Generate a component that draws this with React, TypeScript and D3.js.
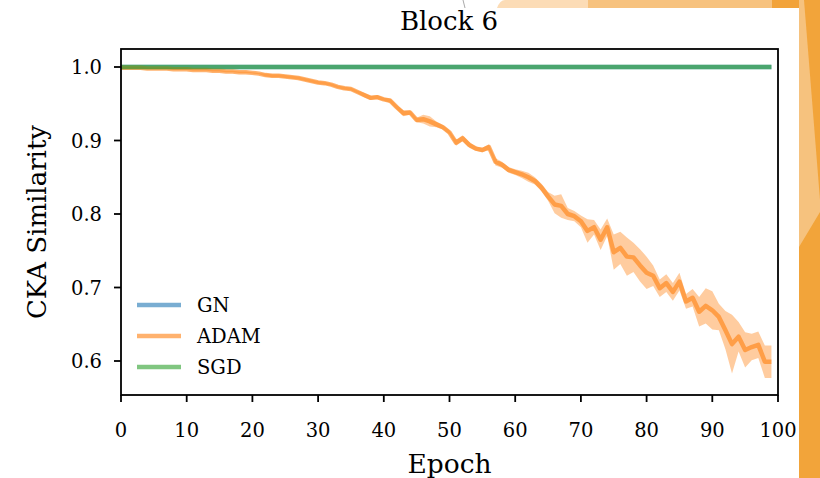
import React from 'react';
import * as d3 from 'd3';

const epochs: number[] = d3.range(0, 100);

const adam: number[] = [
  0.999, 0.999, 0.999, 0.999, 0.998, 0.998, 0.998, 0.998, 0.997, 0.997,
  0.997, 0.996, 0.996, 0.996, 0.995, 0.995, 0.994, 0.994, 0.993, 0.993,
  0.992, 0.991, 0.989, 0.988, 0.988, 0.987, 0.986, 0.985, 0.983, 0.981,
  0.979, 0.978, 0.976, 0.973, 0.971, 0.970, 0.966, 0.962, 0.958, 0.959,
  0.956, 0.954, 0.945, 0.937, 0.938, 0.928, 0.929, 0.926, 0.922, 0.918,
  0.911, 0.897, 0.903, 0.894, 0.889, 0.887, 0.891, 0.871, 0.867, 0.860,
  0.857, 0.854, 0.850, 0.845, 0.836, 0.824, 0.813, 0.811, 0.800, 0.797,
  0.790, 0.777, 0.782, 0.765, 0.782, 0.748, 0.754, 0.742, 0.741, 0.730,
  0.720, 0.716, 0.699, 0.706, 0.694, 0.708, 0.681, 0.686, 0.667, 0.675,
  0.669, 0.660, 0.642, 0.623, 0.633, 0.615, 0.619, 0.622, 0.599, 0.599,
];

const adamSpread: number[] = [
  0.001, 0.001, 0.001, 0.001, 0.001, 0.001, 0.001, 0.001, 0.001, 0.001,
  0.001, 0.001, 0.001, 0.001, 0.001, 0.001, 0.001, 0.001, 0.001, 0.001,
  0.001, 0.001, 0.002, 0.002, 0.002, 0.002, 0.002, 0.002, 0.002, 0.002,
  0.002, 0.002, 0.002, 0.002, 0.002, 0.002, 0.002, 0.003, 0.003, 0.003,
  0.002, 0.003, 0.003, 0.004, 0.003, 0.003, 0.006, 0.007, 0.004, 0.003,
  0.003, 0.004, 0.004, 0.004, 0.003, 0.003, 0.004, 0.005, 0.004, 0.004,
  0.004, 0.005, 0.006, 0.005, 0.005, 0.006, 0.012, 0.016, 0.008, 0.007,
  0.008, 0.016, 0.010, 0.014, 0.012, 0.024, 0.022, 0.026, 0.020, 0.022,
  0.022, 0.014, 0.012, 0.012, 0.012, 0.012, 0.010, 0.012, 0.020, 0.024,
  0.026, 0.018, 0.026, 0.040, 0.020, 0.024, 0.018, 0.018, 0.022, 0.022,
];

const gn: number[] = [
  1.000, 1.000, 1.000, 1.000, 1.000, 1.000, 1.000, 1.000, 1.000, 1.000,
  1.000, 1.000, 1.000, 1.000, 1.000, 1.000, 1.000, 1.000, 1.000, 1.000,
  1.000, 1.000, 1.000, 1.000, 1.000, 1.000, 1.000, 1.000, 1.000, 1.000,
  1.000, 1.000, 1.000, 1.000, 1.000, 1.000, 1.000, 1.000, 1.000, 1.000,
  1.000, 1.000, 1.000, 1.000, 1.000, 1.000, 1.000, 1.000, 1.000, 1.000,
  1.000, 1.000, 1.000, 1.000, 1.000, 1.000, 1.000, 1.000, 1.000, 1.000,
  1.000, 1.000, 1.000, 1.000, 1.000, 1.000, 1.000, 1.000, 1.000, 1.000,
  1.000, 1.000, 1.000, 1.000, 1.000, 1.000, 1.000, 1.000, 1.000, 1.000,
  1.000, 1.000, 1.000, 1.000, 1.000, 1.000, 1.000, 1.000, 1.000, 1.000,
  1.000, 1.000, 1.000, 1.000, 1.000, 1.000, 1.000, 1.000, 1.000, 1.000,
];

const sgd: number[] = [
  1.000, 1.000, 1.000, 1.000, 1.000, 1.000, 1.000, 1.000, 1.000, 1.000,
  1.000, 1.000, 1.000, 1.000, 1.000, 1.000, 1.000, 1.000, 1.000, 1.000,
  1.000, 1.000, 1.000, 1.000, 1.000, 1.000, 1.000, 1.000, 1.000, 1.000,
  1.000, 1.000, 1.000, 1.000, 1.000, 1.000, 1.000, 1.000, 1.000, 1.000,
  1.000, 1.000, 1.000, 1.000, 1.000, 1.000, 1.000, 1.000, 1.000, 1.000,
  1.000, 1.000, 1.000, 1.000, 1.000, 1.000, 1.000, 1.000, 1.000, 1.000,
  1.000, 1.000, 1.000, 1.000, 1.000, 1.000, 1.000, 1.000, 1.000, 1.000,
  1.000, 1.000, 1.000, 1.000, 1.000, 1.000, 1.000, 1.000, 1.000, 1.000,
  1.000, 1.000, 1.000, 1.000, 1.000, 1.000, 1.000, 1.000, 1.000, 1.000,
  1.000, 1.000, 1.000, 1.000, 1.000, 1.000, 1.000, 1.000, 1.000, 1.000,
];

const xTicks: number[] = [0, 10, 20, 30, 40, 50, 60, 70, 80, 90, 100];
const yTicks: number[] = [0.6, 0.7, 0.8, 0.9, 1.0];
const seriesNames: string[] = ['GN', 'ADAM', 'SGD'];
const seriesColors: string[] = ['#1f77b4', '#ff7f0e', '#2ca02c'];

const W = 820;
const H = 478;
const L = 121, R = 778, T = 49, B = 395;
const FONT = "'DejaVu Serif', serif";

export default function App() {
  const x = d3.scaleLinear().domain([0, 100]).range([L, R]);
  const y = d3.scaleLinear().domain([0.6, 1.0]).range([361, 67]);

  const line = d3
    .line<number>()
    .x((_, i) => x(epochs[i]))
    .y((d) => y(d));
  const band = d3
    .area<number>()
    .x((_, i) => x(epochs[i]))
    .y0((d, i) => y(d - adamSpread[i]))
    .y1((d, i) => y(d + adamSpread[i]));

  const seriesData = [gn, adam, sgd];

  return (
    <div style={{ position: 'fixed', left: 0, top: 0, width: W, height: H }}>
      <svg width={W} height={H} style={{ display: 'block' }}>
        <rect x={0} y={0} width={W} height={H} fill="#ffffff" />
        {/* decorative background */}
        <path d="M497,8 Q500,0 505,0 L800,0 L800,8 Z" fill="#fcdcb6" />
        <rect x={588} y={0} width={212} height={8} fill="#f7c27e" />
        <rect x={772} y={0} width={28} height={8} fill="#f2a33a" />
        <rect x={799} y={0} width={21} height={H} fill="#f2a43a" />
        <polygon points="799,0 804,0 820,200 820,212 799,247" fill="#f6c27e" />
        <line x1={463} y1={0} x2={465} y2={8} stroke="#aaaaaa" strokeWidth={1} />

        <clipPath id="plotclip">
          <rect x={L} y={T} width={R - L} height={B - T} />
        </clipPath>
        <g clipPath="url(#plotclip)">
          <path d={band(adam) || ''} fill="#ff7f0e" fillOpacity={0.4} stroke="none" />
          {seriesData.map((s, k) => (
            <path
              key={k}
              d={line(s) || ''}
              fill="none"
              stroke={seriesColors[k]}
              strokeOpacity={0.6}
              strokeWidth={4.5}
              strokeLinejoin="round"
            />
          ))}
        </g>

        {/* spines */}
        <rect x={L} y={T} width={R - L} height={B - T} fill="none" stroke="#000" strokeWidth={1.8} />

        {/* x ticks */}
        {xTicks.map((t) => (
          <g key={'x' + t}>
            <line x1={x(t)} x2={x(t)} y1={B} y2={B + 7} stroke="#000" strokeWidth={1.8} />
            <text x={x(t)} y={437} textAnchor="middle" fontFamily={FONT} fontSize={19.5} fill="#000">
              {t}
            </text>
          </g>
        ))}
        {/* y ticks */}
        {yTicks.map((t) => (
          <g key={'y' + t}>
            <line x1={L - 7} x2={L} y1={y(t)} y2={y(t)} stroke="#000" strokeWidth={1.8} />
            <text x={L - 19} y={y(t) + 7} textAnchor="end" fontFamily={FONT} fontSize={19.5} fill="#000">
              {t.toFixed(1)}
            </text>
          </g>
        ))}

        <text x={(L + R) / 2} y={473} textAnchor="middle" fontFamily={FONT} fontSize={26.5} fill="#000">
          Epoch
        </text>
        <text
          transform={`translate(46, ${(T + B) / 2}) rotate(-90)`}
          textAnchor="middle"
          fontFamily={FONT}
          fontSize={26}
          fill="#000"
        >
          CKA Similarity
        </text>
        <text x={449} y={30} textAnchor="middle" fontFamily={FONT} fontSize={26} fill="#000">
          Block 6
        </text>

        {/* legend */}
        {seriesNames.map((n, k) => (
          <g key={n}>
            <line
              x1={137}
              x2={181}
              y1={305 + k * 31}
              y2={305 + k * 31}
              stroke={seriesColors[k]}
              strokeOpacity={0.6}
              strokeWidth={4.5}
            />
            <text x={197} y={305 + k * 31 + 7} fontFamily={FONT} fontSize={19.5} fill="#000">
              {n}
            </text>
          </g>
        ))}
      </svg>
    </div>
  );
}
